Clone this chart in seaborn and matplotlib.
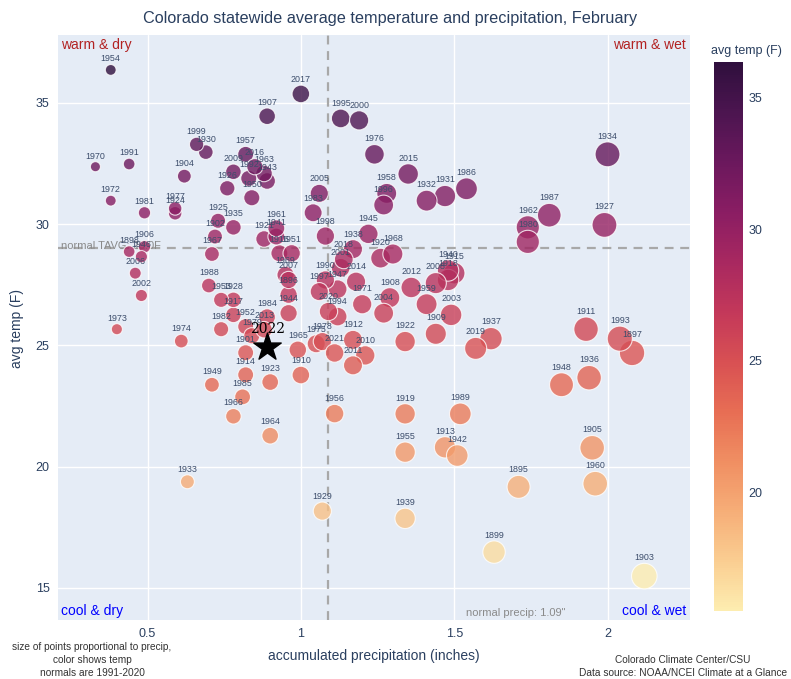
import numpy as np
import pandas as pd
import matplotlib
matplotlib.use("Agg")
import matplotlib.pyplot as plt
import seaborn as sns
from matplotlib.colors import LinearSegmentedColormap, Normalize
from matplotlib.cm import ScalarMappable
import matplotlib.transforms as mtransforms

# February values
years = [1895, 1896, 1897, 1898, 1899, 1901, 1902, 1903, 1904, 1905,
         1906, 1907, 1908, 1909, 1910, 1911, 1912, 1913, 1914, 1915,
         1916, 1917, 1918, 1919, 1920, 1921, 1922, 1923, 1924, 1925,
         1926, 1927, 1928, 1929, 1930, 1931, 1932, 1933, 1934, 1935,
         1936, 1937, 1938, 1939, 1940, 1941, 1942, 1943, 1944, 1945,
         1946, 1947, 1948, 1949, 1950, 1951, 1952, 1953, 1954, 1955,
         1956, 1957, 1958, 1959, 1960, 1961, 1962, 1963, 1964, 1965,
         1966, 1967, 1968, 1969, 1970, 1971, 1972, 1973, 1974, 1975,
         1976, 1977, 1978, 1979, 1980, 1981, 1982, 1983, 1984, 1985,
         1986, 1987, 1988, 1989, 1990, 1991, 1992, 1993, 1994, 1995,
         1996, 1997, 1998, 1999, 2000, 2001, 2002, 2003, 2004, 2005,
         2006, 2007, 2008, 2009, 2010, 2011, 2012, 2013, 2014, 2015,
         2016, 2017, 2018, 2019, 2020, 2021]
precip = [1.71, 0.96, 2.08, 0.44, 1.63, 0.82, 0.72, 2.12, 0.62, 1.95,
          0.49, 0.89, 1.29, 1.44, 1.00, 1.93, 1.17, 1.47, 0.82, 1.50,
          0.93, 0.78, 1.48, 1.34, 1.26, 0.88, 1.34, 0.90, 0.59, 0.73,
          0.76, 1.99, 0.78, 1.07, 0.69, 1.47, 1.41, 0.63, 2.00, 0.78,
          1.94, 1.62, 1.17, 1.34, 1.48, 0.92, 1.51, 0.89, 0.96, 1.22,
          0.48, 1.12, 1.85, 0.71, 0.84, 0.97, 0.82, 0.74, 0.38, 1.34,
          1.11, 0.82, 1.28, 1.41, 1.96, 0.92, 1.74, 0.88, 0.90, 0.99,
          0.78, 0.71, 1.30, 0.95, 0.33, 1.20, 0.38, 0.40, 0.61, 1.05,
          1.24, 0.59, 1.07, 0.84, 1.74, 0.49, 0.74, 1.04, 0.89, 0.81,
          1.54, 1.81, 0.70, 1.52, 1.08, 0.44, 0.83, 2.04, 1.12, 1.13,
          1.27, 1.06, 1.08, 0.66, 1.19, 1.13, 0.48, 1.49, 1.27, 1.06,
          0.46, 0.96, 1.44, 0.78, 1.21, 1.17, 1.36, 0.88, 1.18, 1.35,
          0.85, 1.00, 1.14, 1.57, 1.09, 1.11]
temp = [19.17, 27.09, 24.69, 28.87, 16.48, 24.70, 29.49, 15.49, 31.98, 20.78,
        29.07, 34.45, 26.97, 25.48, 23.78, 25.67, 25.23, 20.80, 23.79, 27.98,
        28.80, 26.26, 27.70, 22.18, 28.60, 29.39, 25.16, 23.49, 30.45, 30.14,
        31.48, 29.97, 26.88, 18.17, 32.97, 31.16, 30.97, 19.38, 32.88, 29.87,
        23.67, 25.28, 28.97, 17.87, 28.09, 29.49, 20.46, 31.78, 26.33, 29.60,
        28.66, 27.32, 23.38, 23.38, 31.09, 28.80, 25.78, 26.88, 36.36, 20.60,
        22.19, 32.88, 31.27, 26.70, 19.30, 29.83, 29.87, 32.09, 21.28, 24.82,
        22.08, 28.77, 28.77, 27.91, 32.37, 26.70, 30.97, 25.67, 25.18, 25.07,
        32.88, 30.65, 25.16, 25.40, 29.27, 30.47, 25.67, 30.47, 26.17, 22.88,
        31.46, 30.37, 27.47, 22.18, 27.70, 32.48, 31.89, 25.28, 26.19, 34.36,
        30.79, 27.22, 29.51, 33.29, 34.28, 28.20, 27.06, 26.26, 26.33, 31.27,
        27.98, 27.70, 27.57, 32.16, 24.59, 24.18, 27.39, 25.65, 27.63, 32.07,
        32.37, 35.37, 28.55, 24.88, 26.40, 24.69]

latest_year = 2022
latest_precip = 0.89
latest_temp = 24.95

normal_precip = 1.09
normal_temp = 29.0

df = pd.DataFrame({"year": years, "precip": precip, "temp": temp})

# plotly "matter" colour scale
matter = ["#fdedb0", "#facd91", "#f6ad77", "#f08e62", "#e76d54", "#d85053",
          "#c3385a", "#a82860", "#8a1d63", "#6b185d", "#4c1550", "#2f0f3d"]
cmap = LinearSegmentedColormap.from_list("matter", matter)
tmin, tmax = df["temp"].min(), df["temp"].max()

sns.set_style("white")
plt.rcParams["font.family"] = ["Liberation Sans", "DejaVu Sans"]
text_col = "#2a3f5f"

W, H = 791, 679
fig = plt.figure(figsize=(W / 100, H / 100), dpi=100)
ax = fig.add_axes([58 / W, 1 - 620 / H, 632 / W, 585 / H])
ax.set_facecolor("#e5ecf6")
for s in ax.spines.values():
    s.set_visible(False)

k = 160
sns.scatterplot(data=df, x="precip", y="temp", hue="temp", size="precip",
                palette=cmap, hue_norm=(tmin, tmax),
                sizes=(k * df["precip"].min(), k * df["precip"].max()),
                alpha=0.8, edgecolor="white", linewidth=0.8,
                legend=False, ax=ax, zorder=3)

for yr, p, t in zip(years, precip, temp):
    r = np.sqrt(k * p) / 2
    ax.annotate(str(yr), (p, t), xytext=(0, r + 0.8), textcoords="offset points",
                ha="center", va="bottom", fontsize=6.4, color="#3c4d6b", zorder=5)

ax.scatter([latest_precip], [latest_temp], marker="*", s=430, color="black", zorder=6)
ax.annotate(str(latest_year), (latest_precip, latest_temp), xytext=(0, 7.5),
            textcoords="offset points", ha="center", va="bottom", fontsize=10,
            family="DejaVu Serif", color="black", zorder=6)

ax.axhline(normal_temp, color="#a8a8a8", lw=1.6, ls=(0, (4, 3)), zorder=2)
ax.axvline(normal_precip, color="#a8a8a8", lw=1.6, ls=(0, (4, 3)), zorder=2)
trans = mtransforms.blended_transform_factory(ax.transAxes, ax.transData)
ax.text(0.004, normal_temp + 0.12, f"normal TAVG: {normal_temp:.1f}F", transform=trans,
        ha="left", va="center", fontsize=8, color="#8a8a8a", zorder=2)
ax.text(1.54, 13.95, f'normal precip: {normal_precip:.2f}"', ha="left", va="center",
        fontsize=8, color="#8a8a8a", zorder=2)

ax.text(0.004, 0.995, "warm & dry", transform=ax.transAxes, ha="left", va="top",
        fontsize=10, color="#b22222")
ax.text(0.994, 0.995, "warm & wet", transform=ax.transAxes, ha="right", va="top",
        fontsize=10, color="#b22222")
ax.text(0.004, 0.004, "cool & dry", transform=ax.transAxes, ha="left", va="bottom",
        fontsize=10, color="#0000ff")
ax.text(0.994, 0.004, "cool & wet", transform=ax.transAxes, ha="right", va="bottom",
        fontsize=10, color="#0000ff")

ax.set_xlim(0.208, 2.269)
ax.set_ylim(13.68, 37.8)
ax.set_xticks([0.5, 1, 1.5, 2])
ax.set_xticklabels(["0.5", "1", "1.5", "2"])
ax.set_yticks([15, 20, 25, 30, 35])
ax.grid(color="white", lw=1)
ax.set_axisbelow(True)
ax.tick_params(length=0, labelsize=9, labelcolor=text_col, pad=6)
ax.set_xlabel("")
ax.set_ylabel("")

fig.text(390 / W, 1 - 18 / H,
         "Colorado statewide average temperature and precipitation, February",
         ha="center", va="center", fontsize=11.7, color=text_col)
fig.text(374 / W, 1 - 656 / H, "accumulated precipitation (inches)",
         ha="center", va="center", fontsize=10, color=text_col)
fig.text(17 / W, 1 - 328 / H, "avg temp (F)", rotation=90,
         ha="center", va="center", fontsize=10, color=text_col)

cax = fig.add_axes([714 / W, 1 - 611 / H, 29 / W, 549 / H])
cb = fig.colorbar(ScalarMappable(norm=Normalize(tmin, tmax), cmap=cmap), cax=cax)
cb.outline.set_visible(False)
cb.set_ticks([20, 25, 30, 35])
cax.tick_params(length=0, labelsize=9, labelcolor=text_col, pad=4)
fig.text(746 / W, 1 - 51 / H, "avg temp (F)", ha="center", va="center",
         fontsize=9, color=text_col)

fig.text(92 / W, 1 - 660 / H,
         "size of points proportional to precip,\ncolor shows temp\nnormals are 1991-2020",
         ha="center", va="center", fontsize=7.3, linespacing=1.35, color="#333333")
fig.text(683 / W, 1 - 666.5 / H,
         "Colorado Climate Center/CSU\nData source: NOAA/NCEI Climate at a Glance",
         ha="center", va="center", fontsize=7.3, linespacing=1.35, color="#333333")

fig.savefig("out.png", dpi=100)
